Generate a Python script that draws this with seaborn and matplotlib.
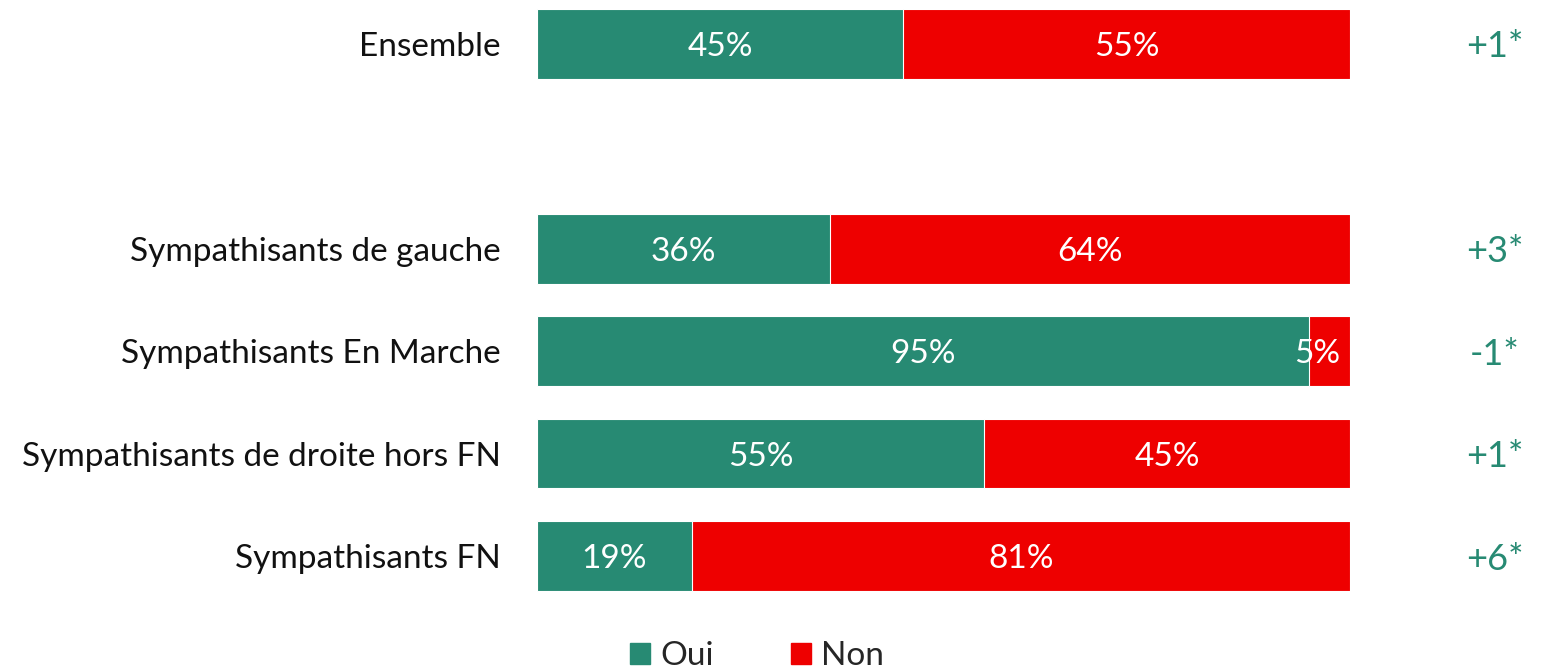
import matplotlib.pyplot as plt
import pandas as pd
import seaborn as sns
from matplotlib.patches import Patch

# categories top to bottom ("" is the empty gap row)
groups = [
    "Ensemble",
    "",
    "Sympathisants de gauche",
    "Sympathisants En Marche",
    "Sympathisants de droite hors FN",
    "Sympathisants FN",
]
oui = [45, None, 36, 95, 55, 19]
non = [55, None, 64, 5, 45, 81]
evolution = ["+1*", "", "+3*", "-1*", "+1*", "+6*"]

GREEN = "#278A73"
RED = "#EE0000"

AX_LEFT = 0.3485
AX_WIDTH = 0.5276


def main():
    sns.set_style("white")
    plt.rcParams["font.family"] = ["Lato", "DejaVu Sans"]

    df = pd.DataFrame({"groupe": groups, "oui": oui, "non": non})
    df = df[df["groupe"] != ""].copy()
    df["total"] = df["oui"] + df["non"]

    fig = plt.figure(figsize=(15.41, 6.72), dpi=100)
    ax = fig.add_axes([AX_LEFT, 0.1116, AX_WIDTH, 0.8839])

    # red full bar first, green share drawn on top
    sns.barplot(data=df, x="total", y="groupe", order=groups, color=RED,
                saturation=1, width=0.68, edgecolor="white", linewidth=0.8, ax=ax)
    sns.barplot(data=df, x="oui", y="groupe", order=groups, color=GREEN,
                saturation=1, width=0.68, edgecolor="white", linewidth=0.8, ax=ax)

    ax.set_xlim(0, 100)
    ax.set_ylim(5.4, -0.4)
    ax.set_xlabel("")
    ax.set_ylabel("")
    ax.set_xticks([])
    ax.tick_params(axis="y", length=0, pad=26, labelsize=24, labelcolor="#111111")
    ax.set_yticks(range(len(groups)))
    ax.set_yticklabels(groups)
    for s in ax.spines.values():
        s.set_visible(False)

    # delta column sits right of the bars, in figure x
    x_delta = (1495 / 1541 - AX_LEFT) / AX_WIDTH

    for i, g in enumerate(groups):
        if g == "":
            continue
        o = oui[i]
        n = non[i]
        ax.text(o / 2, i, f"{o}%", color="white", ha="center",
                va="center_baseline", fontsize=24)
        # narrow segment: label spills left like the original
        x_non = o + n / 2 if n >= 10 else o + n / 2 - 1.6
        ax.text(x_non, i, f"{n}%", color="white", ha="center",
                va="center_baseline", fontsize=24)
        ax.text(x_delta, i, evolution[i], transform=ax.get_yaxis_transform(),
                color=GREEN, ha="center", va="center_baseline", fontsize=26)

    handles = [Patch(color=GREEN, label="Oui"), Patch(color=RED, label="Non")]
    fig.legend(handles=handles, loc="center", bbox_to_anchor=(757 / 1541, 16 / 672),
               ncol=2, frameon=False, fontsize=24, handlelength=0.6, handleheight=0.6,
               columnspacing=2.3, handletextpad=0.3)

    fig.savefig("out.png", dpi=100)
    plt.close(fig)


if __name__ == "__main__":
    main()
